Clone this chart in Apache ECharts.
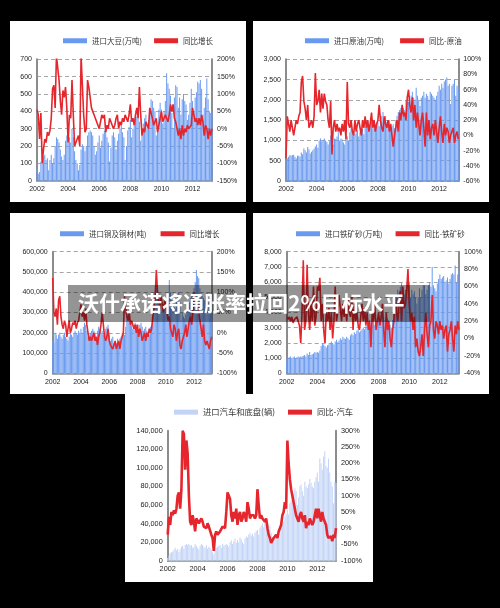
<!DOCTYPE html>
<html><head><meta charset="utf-8">
<script src="https://cdn.jsdelivr.net/npm/echarts@6/dist/echarts.min.js"></script>
<style>html,body{margin:0;padding:0;background:#000}#c{width:500px;height:608px}</style>
</head><body><div id="c"></div>
<script>
// ---- categories: months Jan 2002 .. Apr 2013 ----
const months = [];
for (let y = 2002; y <= 2013; y++) for (let m = 1; m <= 12; m++) { if (y === 2013 && m > 4) break; months.push(y + '-' + (m < 10 ? '0' + m : m)); }
const yearTicks = ['2002','2004','2006','2008','2010','2012'];

// ---- chart 1: soybean imports (万吨) & yoy (%) ----
const soyVol = [
70,40,50,110,100,140,150,120,130,60,120,150,
100,130,200,250,240,220,180,140,120,150,230,260,
300,250,220,300,250,170,120,100,60,90,180,210,
200,170,200,260,280,290,280,260,200,150,170,220,
260,190,230,270,290,290,250,220,110,190,260,280,
250,180,230,270,300,320,280,250,120,200,290,310,
350,250,300,340,360,370,360,340,230,260,330,360,
380,300,350,410,470,460,420,400,260,300,410,450,
410,330,400,460,620,560,530,490,390,300,480,550,
540,420,480,380,470,500,460,440,350,380,450,530,
460,400,480,510,570,560,580,530,380,420,480,590,
470,400,390,400];
const soyYoy = [
55,40,-30,45,-100,-60,-30,-40,-10,-20,-5,30,
115,125,60,210,210,140,80,40,110,90,120,60,
-40,40,30,140,40,-50,-40,-30,-20,-50,210,210,
40,-10,0,140,120,90,60,60,40,30,20,10,
0,20,40,30,40,-10,10,0,30,20,10,0,
10,30,40,0,20,10,30,20,40,30,20,40,
70,20,30,10,40,60,30,120,40,-20,0,-10,
20,10,0,60,65,30,10,20,30,-10,10,30,
50,20,30,40,40,20,40,70,50,70,30,20,
0,-20,0,-30,10,-20,0,-10,10,0,0,10,
60,40,20,30,10,30,10,40,20,-20,10,0,
-30,0,-20,0];

// ---- chart 2: crude oil imports (万吨) & yoy (%) ----
const oilVol = [
520,560,600,640,620,640,650,600,560,620,620,600,
700,660,800,760,700,840,780,680,720,760,800,850,
900,820,1000,1050,980,1010,1050,1000,960,900,980,1120,
950,900,1050,1040,1100,1200,1000,1050,1020,950,900,1100,
1100,1000,1200,1300,1250,1180,1150,1200,1250,1100,1200,1150,
1280,1150,1350,1400,1500,1420,1380,1450,1300,1350,1400,1350,
1450,1350,1500,1600,1700,1550,1600,1450,1500,1500,1400,1350,
1400,1300,1500,1600,1700,1750,1800,1600,1800,1750,2000,1950,
1950,1900,2100,2200,2050,2000,2300,2100,2000,1850,2050,2100,
2200,2050,2150,2100,2000,2200,2150,2100,2050,2000,2100,2200,
2350,2250,2400,2300,2450,2500,2550,2350,2400,1900,2350,2400,
2500,2100,2350,2300];
const oilYoy = [
-30,25,15,5,20,10,0,10,20,15,25,30,
70,78,45,35,20,40,10,15,20,10,25,82,
40,45,60,30,55,35,55,45,40,20,10,45,
-25,10,20,5,15,5,10,0,15,5,20,-5,
70,15,10,20,5,0,20,5,15,20,10,0,
20,10,25,10,20,5,15,30,10,20,5,15,
20,40,20,10,5,25,15,10,20,5,15,0,
-15,0,10,20,5,30,20,40,25,30,20,50,
60,40,30,50,20,40,10,30,15,0,20,30,
10,-15,30,0,20,-5,10,15,0,20,5,-10,
10,25,5,-10,15,0,10,5,-10,0,5,10,
-10,0,5,-5];

// ---- chart 3: copper imports (吨) & yoy (%) ----
const cuVol = [
160000,150000,200000,190000,170000,190000,200000,180000,170000,190000,200000,180000,
170000,160000,180000,200000,190000,180000,200000,210000,200000,190000,210000,200000,
220000,200000,230000,250000,240000,210000,180000,190000,200000,210000,220000,210000,
200000,180000,210000,230000,220000,200000,210000,190000,200000,220000,230000,240000,
190000,160000,170000,180000,150000,140000,150000,170000,160000,170000,180000,200000,
200000,190000,230000,290000,300000,260000,250000,240000,220000,230000,250000,240000,
230000,210000,240000,250000,230000,210000,220000,230000,210000,200000,190000,230000,
240000,280000,330000,380000,420000,410000,400000,380000,350000,330000,340000,360000,
350000,300000,380000,460000,400000,360000,340000,330000,320000,360000,380000,400000,
350000,260000,300000,280000,270000,290000,310000,330000,350000,370000,380000,400000,
420000,450000,510000,480000,470000,420000,400000,380000,370000,360000,380000,400000,
350000,300000,320000,330000];
const cuYoy = [
135,50,40,60,20,80,90,40,20,10,30,20,
-10,10,30,0,10,25,20,30,10,25,30,50,
70,40,50,30,60,20,0,-20,-10,-20,-10,0,
-20,-10,-30,-10,0,20,50,20,-10,-20,-10,10,
-20,-30,-30,-40,-30,-20,-40,-30,-20,-40,-20,-10,
0,90,60,40,30,50,20,30,20,10,20,0,
20,-10,10,0,-20,-10,0,-20,0,-10,10,0,
10,40,60,90,155,100,80,60,90,70,50,80,
70,50,30,40,10,0,-10,20,10,-20,0,10,
-30,-40,-20,-10,0,20,-10,10,30,40,20,50,
100,80,60,70,50,30,10,-10,20,-20,-30,-20,
-30,-40,-20,-10];

// ---- chart 4: iron ore imports (万吨) & yoy (%) ----
const feVol = [
900,1000,1050,1100,1000,1050,1100,1000,1050,1100,1050,1100,
1100,1150,1200,1100,1300,1200,1400,1200,1250,1300,1400,1350,
1400,1350,1500,1800,2000,1900,1800,1700,1850,1900,2000,2100,
2000,1900,2100,2200,2050,2150,2300,2200,2400,2300,2250,2400,
2300,2200,2500,2600,2500,2700,2600,2800,2900,2700,2800,2900,
3000,2900,3100,3300,3200,3500,3300,3400,3600,3200,3400,3500,
3600,3300,3800,4000,3700,3500,3900,3600,3500,3200,3000,3500,
4200,4000,5000,5500,5300,5700,6000,5000,5200,5500,5800,6400,
6000,5000,5500,5200,5400,5000,4600,5000,5600,5000,5500,5800,
5800,5200,5500,5800,6000,5700,7000,5800,5600,5400,5900,6200,
6500,6200,6300,6400,6000,6100,6300,5900,6200,6500,6600,6500,
7100,6000,6500,6800];
const feYoy = [
25,22,25,20,25,18,22,20,25,20,15,-5,
30,90,10,20,85,30,10,40,20,60,15,25,
60,55,70,20,40,10,-5,30,20,35,10,30,
0,20,60,20,30,50,35,20,40,25,35,20,
45,30,25,50,10,40,20,30,15,10,25,40,
20,35,15,30,10,20,-10,30,20,40,10,20,
30,15,25,40,10,-10,30,10,20,0,-10,10,
20,50,30,20,40,55,20,60,35,40,55,80,
40,20,30,10,25,-10,0,-15,-20,-10,5,-20,
10,30,5,-10,15,20,50,10,0,20,15,5,
20,10,15,0,10,15,-15,5,10,20,0,-15,
15,5,20,10];

// ---- chart 5: auto & chassis imports (辆) & yoy (%) ----
const carVol = [
3000,5000,8000,9000,10000,12000,14000,11000,13000,9000,12000,15000,
16000,13000,17000,18000,17000,18000,16000,17000,14000,15000,18000,16000,
14000,12000,16000,18000,17000,15000,14000,17000,13000,15000,14000,12000,
9000,7000,12000,14000,15000,16000,17000,14000,18000,16000,17000,18000,
17000,15000,20000,22000,18000,21000,24000,19000,22000,20000,25000,23000,
20000,18000,24000,26000,25000,28000,30000,27000,29000,26000,30000,32000,
33000,28000,35000,38000,40000,36000,42000,38000,35000,40000,37000,30000,
25000,22000,28000,27000,29000,33000,35000,38000,40000,42000,48000,50000,
55000,50000,62000,65000,70000,72000,78000,75000,60000,68000,80000,82000,
75000,70000,85000,80000,78000,82000,88000,84000,80000,78000,85000,90000,
95000,85000,110000,105000,98000,112000,118000,102000,100000,110000,95000,85000,
80000,62000,85000,84000];
const carYoy = [
-20,35,10,50,40,55,45,60,100,110,60,120,
300,290,180,270,230,100,20,10,40,20,-10,30,
30,15,10,30,20,5,10,0,15,5,10,-20,
-30,-70,-20,-10,-20,-15,-10,-10,5,10,0,50,
110,100,90,40,20,50,30,60,10,40,50,20,
30,50,40,20,80,60,30,40,35,40,30,40,
120,70,30,40,30,25,20,30,0,-20,-30,-45,
-45,-30,-30,-20,-30,-10,0,10,40,50,80,60,
270,200,150,120,100,80,60,40,30,20,40,50,
30,20,40,0,20,10,30,20,10,20,40,60,
30,60,40,20,50,30,20,10,-20,-30,-30,-25,
-40,-20,-30,0];

const titleText = '沃什承诺将通胀率拉回2%目标水平';

// ---- configuration of the five panels ----
const FONT = '"Liberation Sans", Arial, sans-serif';
const CJK = '"Noto Sans CJK SC", sans-serif';
const comma = v => String(v).replace(/\B(?=(\d{3})+(?!\d))/g, ',');
const panels = [
  { grid:{left:37,top:59.3,width:175,height:121.4}, l:[0,700,100], r:[-150,200,50], leg:{left:58,top:32,gap:12,fs:7.5},
    names:['进口大豆(万吨)','同比增长'], bars:soyVol, line:soyYoy, barColor:'#6a9af0', lw:1.6, fmt:v=>String(v) },
  { grid:{left:286,top:59.3,width:172.3,height:121.7}, l:[0,3000,500], r:[-60,100,20], leg:{left:300,top:32,gap:16,fs:7.5},
    names:['进口原油(万吨)','同比-原油'], bars:oilVol, line:oilYoy, barColor:'#6a9af0', lw:1.6, fmt:comma },
  { grid:{left:52.7,top:251.7,width:159,height:121.6}, l:[0,600000,100000], r:[-100,200,50], leg:{left:55,top:225,gap:14,fs:7.5},
    names:['进口铜及铜材(吨)','同比增长'], bars:cuVol, line:cuYoy, barColor:'#6a9af0', lw:1.6, fmt:comma },
  { grid:{left:286.7,top:251.7,width:172.3,height:121.6}, l:[0,8000,1000], r:[-40,100,20], leg:{left:291,top:225,gap:13,fs:7.5},
    names:['进口铁矿砂(万吨)','同比-铁矿砂'], bars:feVol, line:feYoy, barColor:'#6a9af0', lw:1.6, fmt:comma },
  { grid:{left:167.7,top:430.7,width:168.3,height:130}, l:[0,140000,20000], r:[-100,300,50], leg:{left:169,top:403,gap:13,fs:8.3},
    names:['进口汽车和底盘(辆)','同比-汽车'], bars:carVol, line:carYoy, barColor:'#c3d4f7', lw:2.6, fmt:comma, light:true }
];

const option = { backgroundColor:'#000', animation:false, grid:[], xAxis:[], yAxis:[], series:[], legend:[],
  graphic:[
    {type:'rect', z:-10, shape:{x:10,y:21,width:236,height:181}, style:{fill:'#fff'}},
    {type:'rect', z:-10, shape:{x:253,y:21,width:236,height:181}, style:{fill:'#fff'}},
    {type:'rect', z:-10, shape:{x:10,y:213,width:236,height:181}, style:{fill:'#fff'}},
    {type:'rect', z:-10, shape:{x:253,y:213,width:236,height:181}, style:{fill:'#fff'}},
    {type:'rect', z:-10, shape:{x:125,y:394,width:248,height:188}, style:{fill:'#fff'}},
    {type:'rect', z:100, shape:{x:68,y:285,width:362,height:37}, style:{fill:'rgba(0,0,0,0.42)'}},
    {type:'text', z:101, x:78, y:303, style:{text:titleText, fill:'#fff', font:'bold 21px "Noto Sans CJK SC", sans-serif', textVerticalAlign:'middle', textAlign:'left'}}
  ]};

panels.forEach((p, i) => {
  option.grid.push(Object.assign({}, p.grid));
  const fs = p.light ? 7.3 : 7;
  option.xAxis.push({ type:'category', gridIndex:i, data:months, boundaryGap:false,
    axisLine:{show:true, lineStyle:{color:'#8c8c8c', width:1.5}}, axisTick:{show:false},
    axisLabel:{ fontSize:fs, fontFamily:FONT, color:'#222', margin:5, hideOverlap:false,
      interval:(idx, v) => v.slice(5) === '01' && yearTicks.indexOf(v.slice(0,4)) >= 0, formatter:v => v.slice(0,4) },
    splitLine:{show:false} });
  option.yAxis.push({ type:'value', gridIndex:i, min:p.l[0], max:p.l[1], interval:p.l[2], position:'left',
    axisLine:{show:true, lineStyle:{color:'#8c8c8c', width:2}}, axisTick:{show:false},
    axisLabel:{fontSize:fs, fontFamily:FONT, color:'#222', margin:5, formatter:p.fmt},
    splitLine:{show:!p.light, lineStyle:{color:'#a6a6a6', width:1.2, type:[4,3]}} });
  option.yAxis.push({ type:'value', gridIndex:i, min:p.r[0], max:p.r[1], interval:p.r[2], position:'right',
    axisLine:{show:true, lineStyle:{color:'#8c8c8c', width:2}}, axisTick:{show:false},
    axisLabel:{fontSize:fs, fontFamily:FONT, color:'#222', margin:5, formatter:v => v + '%'},
    splitLine:{show:false} });
  option.series.push({ type:'bar', name:p.names[0], xAxisIndex:i, yAxisIndex:2*i, data:p.bars,
    barCategoryGap:'25%', itemStyle:{color:p.barColor}, z:2, silent:true });
  option.series.push({ type:'line', name:p.names[1], xAxisIndex:i, yAxisIndex:2*i+1, data:p.line,
    showSymbol:false, symbol:'none', lineStyle:{color:'#e5262d', width:p.lw}, itemStyle:{color:'#e5262d'}, z:3, silent:true });
  option.legend.push({ left:p.leg.left, top:p.leg.top, itemWidth:24, itemHeight:5, itemGap:p.leg.gap, icon:'rect',
    data:p.names, selectedMode:false, textStyle:{fontSize:p.leg.fs, fontFamily:CJK, color:'#333'} });
});

const chart = echarts.init(document.getElementById('c'), null, {renderer:'canvas'});
chart.setOption(option);
</script></body></html>
